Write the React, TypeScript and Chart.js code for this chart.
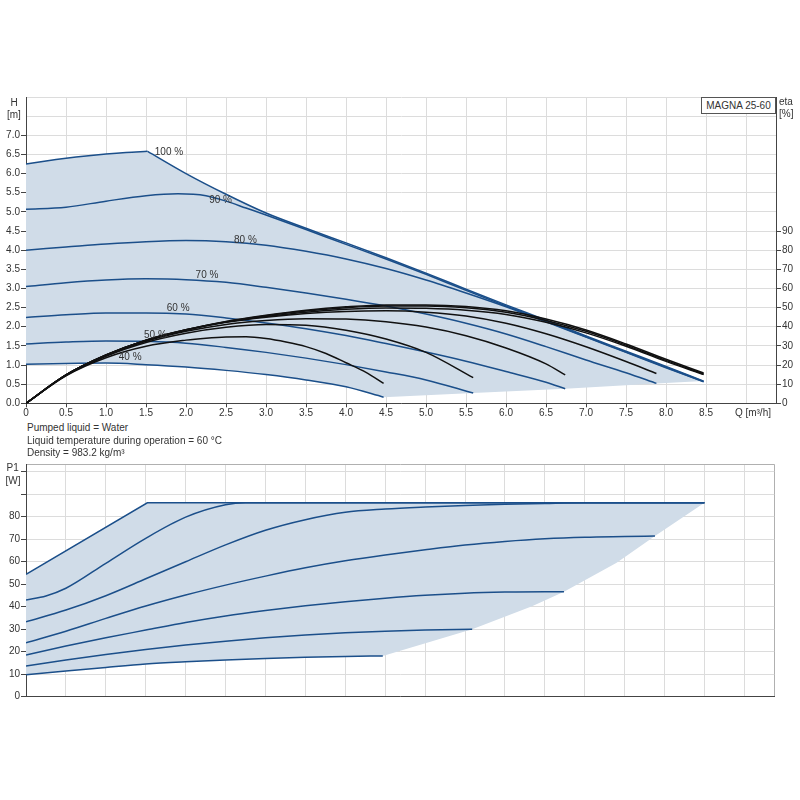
import React, { useEffect, useRef } from 'react';
import { Chart, registerables } from 'chart.js';

Chart.register(...registerables);

const FONT = '"Liberation Sans", Arial, Helvetica, sans-serif';
const FONT_SIZE = 10;
const BLUE = '#1b4f8a';
const BLACK = '#111111';
const FILL = 'rgb(208,220,232)';
const GRID = '#dcdcdc';
const BORDER_GRAY = '#b0b0b0';
const AXIS = '#444444';
const TEXT = '#333333';

// ---------- axes ----------
const Q_MAX = 9.375;
const Q_TICKS = [0, 0.5, 1, 1.5, 2, 2.5, 3, 3.5, 4, 4.5, 5, 5.5, 6, 6.5, 7, 7.5, 8, 8.5, 9];
const Q_LABEL_MAX = 8.5;
const H_MAX = 8;
const H_TICKS = [0, 0.5, 1, 1.5, 2, 2.5, 3, 3.5, 4, 4.5, 5, 5.5, 6, 6.5, 7, 7.5, 8];
const H_LABEL_MAX = 7;
const ETA_MAX = 160;
const ETA_TICKS = [0, 10, 20, 30, 40, 50, 60, 70, 80, 90];
const P_MAX = 103.3;
const P_TICKS = [0, 10, 20, 30, 40, 50, 60, 70, 80, 90, 100];
const P_LABEL_MAX = 80;

// ---------- speed labels ----------
const SPEED_LABELS = ['100 %', '90 %', '80 %', '70 %', '60 %', '50 %', '40 %'];
const LABEL_Q = [1.61, 2.29, 2.6, 2.12, 1.76, 1.475, 1.16];
const LABEL_H = [6.56, 5.3, 4.26, 3.35, 2.49, 1.78, 1.2];

// ---------- H curves (Q m3/h, H m) ----------
const q100a = [0, 0.25, 0.5, 0.75, 1.0, 1.25, 1.52];
const h100a = [6.25, 6.33, 6.4, 6.46, 6.51, 6.55, 6.58];
const q100b = [1.52, 2.0, 2.5, 3.0, 3.5, 4.0, 4.5, 5.0, 5.5, 6.0, 6.5, 7.0, 7.5, 8.0, 8.47];
const h100b = [6.58, 6.0, 5.46, 4.97, 4.57, 4.19, 3.8, 3.4, 2.98, 2.57, 2.17, 1.76, 1.36, 0.96, 0.58];
const q90 = [0, 0.5, 1.0, 1.5, 1.9, 2.25, 2.5, 2.75, 3.0, 3.5, 4.0, 4.5, 5.0, 5.5, 6.0, 6.5, 7.0, 7.5, 8.0, 8.47];
const h90 = [5.07, 5.12, 5.28, 5.42, 5.47, 5.42, 5.28, 5.1, 4.92, 4.54, 4.15, 3.77, 3.37, 2.95, 2.54, 2.14, 1.74, 1.34, 0.94, 0.57];
const q80 = [0, 0.5, 1.0, 1.5, 2.0, 2.5, 3.0, 3.5, 4.0, 4.5, 5.0, 5.5, 6.0, 6.5, 7.0, 7.5, 8.0, 8.47];
const h80 = [4.0, 4.08, 4.16, 4.22, 4.25, 4.22, 4.13, 3.97, 3.77, 3.52, 3.22, 2.88, 2.52, 2.13, 1.73, 1.33, 0.93, 0.56];
const q70 = [0, 0.5, 1.0, 1.5, 2.0, 2.5, 3.0, 3.5, 4.0, 4.5, 5.0, 5.5, 6.0, 6.5, 7.0, 7.5, 7.88];
const h70 = [3.05, 3.15, 3.22, 3.25, 3.23, 3.16, 3.03, 2.88, 2.72, 2.54, 2.33, 2.09, 1.81, 1.48, 1.13, 0.8, 0.52];
const q60 = [0, 0.5, 1.0, 1.5, 2.0, 2.5, 3.0, 3.5, 4.0, 4.5, 5.0, 5.5, 6.0, 6.5, 6.74];
const h60 = [2.24, 2.31, 2.36, 2.36, 2.33, 2.23, 2.1, 1.95, 1.77, 1.56, 1.34, 1.1, 0.83, 0.55, 0.38];
const q50 = [0, 0.5, 1.0, 1.5, 2.0, 2.5, 3.0, 3.5, 4.0, 4.5, 5.0, 5.59];
const h50 = [1.55, 1.6, 1.63, 1.62, 1.57, 1.46, 1.33, 1.18, 1.01, 0.82, 0.61, 0.27];
const q40 = [0, 0.5, 1.0, 1.5, 2.0, 2.5, 3.0, 3.5, 4.0, 4.47];
const h40 = [1.02, 1.04, 1.05, 1.01, 0.95, 0.86, 0.75, 0.61, 0.43, 0.16];
// lower edge of the operating area between curve ends
const hEdgeQ = [7.88, 6.74, 5.59];
const hEdgeH = [0.52, 0.38, 0.27];

// ---------- efficiency curves (Q m3/h, eta %) ----------
const eq100 = [0, 0.5, 1.0, 1.5, 2.0, 2.5, 3.0, 3.5, 4.0, 4.5, 5.0, 5.5, 6.0, 6.5, 7.0, 7.5, 8.0, 8.47];
const eta100 = [0, 14.8, 25.2, 33, 38.4, 42.8, 46, 48.6, 50.4, 51.4, 51.4, 50.6, 48.3, 44, 38.3, 31, 23, 15.8];
const eta90 = [0, 14.8, 25.2, 33, 38.4, 42.6, 45.7, 48.2, 49.9, 50.8, 50.8, 49.9, 47.6, 43.3, 37.6, 30.4, 22.4, 15.3];
const eta80 = [0, 14.8, 25.2, 33, 38.4, 42.4, 45.3, 47.6, 49.1, 49.8, 49.6, 48.6, 46.4, 42.3, 36.8, 29.8, 21.9, 15.0];
const eq70 = [0, 0.5, 1.0, 1.5, 2.0, 2.5, 3.0, 3.5, 4.0, 4.5, 5.0, 5.5, 6.0, 6.5, 7.0, 7.5, 7.88];
const eta70 = [0, 14.8, 25.1, 32.8, 38.2, 42.3, 45, 46.9, 48, 48.3, 47.6, 45.6, 41.8, 36.3, 29.5, 21.8, 15.6];
const eq60 = [0, 0.5, 1.0, 1.5, 2.0, 2.5, 3.0, 3.5, 4.0, 4.5, 5.0, 5.5, 6.0, 6.5, 6.74];
const eta60 = [0, 14.7, 24.9, 32.4, 37.6, 41.2, 43.3, 44.2, 44, 42.6, 39.8, 35.3, 28.9, 20.6, 14.8];
const eq50 = [0, 0.5, 1.0, 1.5, 2.0, 2.5, 3.0, 3.5, 4.0, 4.5, 5.0, 5.59];
const eta50 = [0, 14.6, 24.6, 31.8, 36.6, 39.7, 41.2, 40.8, 38.2, 33.6, 26.6, 13.4];
const eq40 = [0, 0.5, 1.0, 1.5, 2.0, 2.25, 2.5, 2.75, 3.0, 3.25, 3.5, 3.75, 4.0, 4.25, 4.47];
const eta40 = [0, 14.4, 23.8, 29.8, 33, 34, 34.6, 34.7, 33.8, 32, 29.6, 26, 21.2, 16.2, 10.4];

// ---------- power curves (Q m3/h, P1 W) ----------
const pq100 = [0, 1.52, 8.5];
const p100 = [54.4, 86.2, 86.2];
const pq90 = [0, 0.25, 0.5, 1.0, 1.5, 2.0, 2.5, 2.75, 3.0, 8.5];
const p90 = [43, 44.8, 48.2, 59.3, 70.4, 79.8, 85.3, 86.2, 86.2, 86.2];
const pq80 = [0, 0.5, 1.0, 1.5, 2.0, 2.5, 3.0, 3.5, 4.0, 4.5, 5.0, 5.5, 6.0, 6.5, 7.0, 8.5];
const p80 = [33.3, 38.5, 44.9, 52.4, 60, 67.5, 74, 78.7, 82, 83.4, 84.3, 85, 85.5, 85.9, 86.2, 86.2];
const pq70 = [0, 0.5, 1.0, 1.5, 2.0, 2.5, 3.0, 3.5, 4.0, 4.5, 5.0, 5.5, 6.0, 6.5, 7.0, 7.5, 7.88];
const p70 = [24, 29.1, 34.8, 40.3, 45.2, 49.6, 53.6, 57.3, 60.4, 63, 65.3, 67.4, 69, 70.2, 70.9, 71.2, 71.4];
const pq60 = [0, 0.5, 1.0, 1.5, 2.0, 2.5, 3.0, 3.5, 4.0, 4.5, 5.0, 5.5, 6.0, 6.5, 6.74];
const p60 = [18.5, 22.5, 26.2, 29.6, 33, 35.9, 38.3, 40.4, 42.2, 43.8, 45.1, 46, 46.5, 46.7, 46.7];
const pq50 = [0, 0.5, 1.0, 1.5, 2.0, 2.5, 3.0, 3.5, 4.0, 4.5, 5.0, 5.59];
const p50 = [13.6, 16.3, 18.8, 21, 23, 24.7, 26.2, 27.4, 28.4, 29.1, 29.6, 30];
const pq40 = [0, 0.5, 1.0, 1.5, 2.0, 2.5, 3.0, 3.5, 4.0, 4.47];
const p40 = [9.7, 11.4, 13, 14.5, 15.5, 16.3, 17, 17.5, 17.9, 18.1];
const pEdgeQ = [7.88, 7.4, 6.74, 6.34, 5.59];
const pEdgeP = [71.4, 59.5, 46.7, 40.2, 30];

const xy = (q: number[], v: number[]) => q.map((x, i) => ({ x, y: v[i] }));

const tickFont = { family: FONT, size: FONT_SIZE };

function lineDs(data: any[], color: string, axis: string, straight = false, width = 1.5) {
  return {
    data,
    borderColor: color,
    borderWidth: width,
    pointRadius: 0,
    fill: false,
    tension: 0,
    cubicInterpolationMode: straight ? 'default' : 'monotone',
    yAxisID: axis,
    order: color === BLACK ? 1 : 2,
  } as any;
}

const speedLabelPlugin = {
  id: 'speedLabels',
  afterDatasetsDraw(chart: any) {
    const { ctx, scales } = chart;
    ctx.save();
    ctx.font = `${FONT_SIZE}px ${FONT}`;
    ctx.fillStyle = TEXT;
    ctx.textAlign = 'left';
    ctx.textBaseline = 'middle';
    SPEED_LABELS.forEach((t, i) => {
      ctx.fillText(t, scales.x.getPixelForValue(LABEL_Q[i]), scales.y.getPixelForValue(LABEL_H[i]));
    });
    ctx.restore();
  },
};

function qScale(showLabels: boolean, height: number) {
  return {
    type: 'linear',
    min: 0,
    max: Q_MAX,
    afterBuildTicks: (s: any) => {
      s.ticks = [...Q_TICKS, Q_MAX].map((v) => ({ value: v }));
    },
    afterFit: (s: any) => {
      s.height = height;
    },
    ticks: {
      display: showLabels,
      autoSkip: false,
      maxRotation: 0,
      padding: 0,
      color: TEXT,
      font: tickFont,
      callback: (v: any) => (v <= Q_LABEL_MAX ? (v === 0 ? '0' : Number(v).toFixed(1)) : ''),
    },
    grid: {
      drawTicks: showLabels,
      tickLength: 4,
      color: (c: any) => (c.tick && c.tick.value === Q_MAX ? BORDER_GRAY : GRID),
      tickColor: (c: any) => (c.tick && c.tick.value <= Q_LABEL_MAX ? AXIS : 'rgba(0,0,0,0)'),
    },
    border: { color: AXIS, width: 1 },
  } as any;
}

export default function App() {
  const topRef = useRef<HTMLCanvasElement>(null);
  const botRef = useRef<HTMLCanvasElement>(null);

  useEffect(() => {
    const hFill = [
      ...xy(q100a, h100a),
      ...xy(q100b, h100b),
      ...xy(hEdgeQ, hEdgeH),
      ...xy(q40, h40).reverse(),
    ];
    const top = new Chart(topRef.current as HTMLCanvasElement, {
      type: 'line',
      data: {
        datasets: [
          {
            data: hFill,
            fill: 'shape',
            backgroundColor: FILL,
            borderColor: 'rgba(0,0,0,0)',
            borderWidth: 0,
            pointRadius: 0,
            tension: 0,
            yAxisID: 'y',
            order: 10,
          } as any,
          lineDs(xy(q100a, h100a), BLUE, 'y'),
          lineDs(xy(q100b, h100b), BLUE, 'y'),
          lineDs(xy(q90, h90), BLUE, 'y'),
          lineDs(xy(q80, h80), BLUE, 'y'),
          lineDs(xy(q70, h70), BLUE, 'y'),
          lineDs(xy(q60, h60), BLUE, 'y'),
          lineDs(xy(q50, h50), BLUE, 'y'),
          lineDs(xy(q40, h40), BLUE, 'y'),
          lineDs(xy(eq100, eta100), BLACK, 'eta'),
          lineDs(xy(eq100, eta90), BLACK, 'eta'),
          lineDs(xy(eq100, eta80), BLACK, 'eta'),
          lineDs(xy(eq70, eta70), BLACK, 'eta'),
          lineDs(xy(eq60, eta60), BLACK, 'eta'),
          lineDs(xy(eq50, eta50), BLACK, 'eta'),
          lineDs(xy(eq40, eta40), BLACK, 'eta'),
        ],
      },
      options: {
        responsive: false,
        animation: false,
        events: [],
        layout: { padding: { top: 17, left: 0, right: 0, bottom: 0 } },
        plugins: { legend: { display: false }, tooltip: { enabled: false } },
        scales: {
          x: qScale(true, 16.7),
          y: {
            type: 'linear',
            position: 'left',
            min: 0,
            max: H_MAX,
            afterBuildTicks: (s: any) => {
              s.ticks = H_TICKS.map((v) => ({ value: v }));
            },
            afterFit: (s: any) => {
              s.width = 26;
            },
            ticks: {
              padding: 1,
              color: TEXT,
              font: tickFont,
              callback: (v: any) => (v <= H_LABEL_MAX ? Number(v).toFixed(1) : ''),
            },
            grid: {
              tickLength: 5,
              color: GRID,
              tickColor: (c: any) => (c.tick && c.tick.value <= H_LABEL_MAX ? AXIS : 'rgba(0,0,0,0)'),
            },
            border: { color: AXIS, width: 1 },
          },
          eta: {
            type: 'linear',
            position: 'right',
            min: 0,
            max: ETA_MAX,
            afterBuildTicks: (s: any) => {
              s.ticks = ETA_TICKS.map((v) => ({ value: v }));
            },
            afterFit: (s: any) => {
              s.width = 24;
            },
            ticks: {
              padding: 1,
              color: TEXT,
              font: tickFont,
              callback: (v: any) => String(v),
            },
            grid: { drawOnChartArea: false, tickLength: 5, color: AXIS, tickColor: AXIS },
            border: { color: AXIS, width: 1 },
          },
        } as any,
      },
      plugins: [speedLabelPlugin],
    } as any);

    const pFill = [...xy(pq100, p100), ...xy(pEdgeQ, pEdgeP), ...xy(pq40, p40).reverse()];
    const bot = new Chart(botRef.current as HTMLCanvasElement, {
      type: 'line',
      data: {
        datasets: [
          {
            data: pFill,
            fill: 'shape',
            backgroundColor: FILL,
            borderColor: 'rgba(0,0,0,0)',
            borderWidth: 0,
            pointRadius: 0,
            tension: 0,
            yAxisID: 'y',
            order: 10,
          } as any,
          lineDs(xy(pq100, p100), BLUE, 'y', true),
          lineDs(xy(pq90, p90), BLUE, 'y'),
          lineDs(xy(pq80, p80), BLUE, 'y'),
          lineDs(xy(pq70, p70), BLUE, 'y'),
          lineDs(xy(pq60, p60), BLUE, 'y'),
          lineDs(xy(pq50, p50), BLUE, 'y'),
          lineDs(xy(pq40, p40), BLUE, 'y'),
        ],
      },
      options: {
        responsive: false,
        animation: false,
        events: [],
        layout: { padding: { top: 9.3, left: 0, right: 25.7, bottom: 8.3 } },
        plugins: { legend: { display: false }, tooltip: { enabled: false } },
        scales: {
          x: qScale(false, 0),
          y: {
            type: 'linear',
            position: 'left',
            min: 0,
            max: P_MAX,
            afterBuildTicks: (s: any) => {
              s.ticks = [...P_TICKS, P_MAX].map((v) => ({ value: v }));
            },
            afterFit: (s: any) => {
              s.width = 26;
            },
            ticks: {
              padding: 1,
              color: TEXT,
              font: tickFont,
              callback: (v: any) => (v <= P_LABEL_MAX ? String(v) : ''),
            },
            grid: {
              tickLength: 5,
              color: (c: any) => (c.tick && c.tick.value === P_MAX ? BORDER_GRAY : GRID),
              tickColor: (c: any) => (c.tick && c.tick.value <= 100 ? AXIS : 'rgba(0,0,0,0)'),
            },
            border: { color: AXIS, width: 1 },
          },
        } as any,
      },
    } as any);

    return () => {
      top.destroy();
      bot.destroy();
    };
  }, []);

  const txt = (s: string, left: number, cy: number, extra: any = {}) => (
    <div
      style={{
        position: 'absolute',
        left,
        top: cy - 6,
        height: 12,
        lineHeight: '12px',
        fontSize: FONT_SIZE,
        color: TEXT,
        whiteSpace: 'nowrap',
        ...extra,
      }}
    >
      {s}
    </div>
  );

  return (
    <div
      style={{
        position: 'absolute',
        left: 0,
        top: 0,
        width: 800,
        height: 800,
        background: '#ffffff',
        fontFamily: FONT,
      }}
    >
      <canvas ref={topRef} width={800} height={340} style={{ position: 'absolute', left: 0, top: 80, display: 'block' }} />
      <canvas ref={botRef} width={800} height={250} style={{ position: 'absolute', left: 0, top: 455, display: 'block' }} />
      {txt('H', 10.5, 103)}
      {txt('[m]', 7, 114.5)}
      {txt('eta', 779, 102)}
      {txt('[%]', 779, 114)}
      {txt('Q [m³/h]', 0, 412.5, { left: 'auto', right: 29 })}
      <div
        style={{
          position: 'absolute',
          left: 701,
          top: 96.5,
          width: 75,
          height: 17,
          boxSizing: 'border-box',
          border: '1px solid #555',
          background: '#fff',
          fontSize: FONT_SIZE,
          lineHeight: '15px',
          color: TEXT,
          textAlign: 'center',
          whiteSpace: 'nowrap',
        }}
      >
        MAGNA 25-60
      </div>
      {txt('Pumped liquid = Water', 27, 428.3)}
      {txt('Liquid temperature during operation = 60 °C', 27, 440.5)}
      {txt('Density = 983.2 kg/m³', 27, 452.7)}
      {txt('P1', 6.5, 468.3)}
      {txt('[W]', 5.5, 480.7)}
    </div>
  );
}
